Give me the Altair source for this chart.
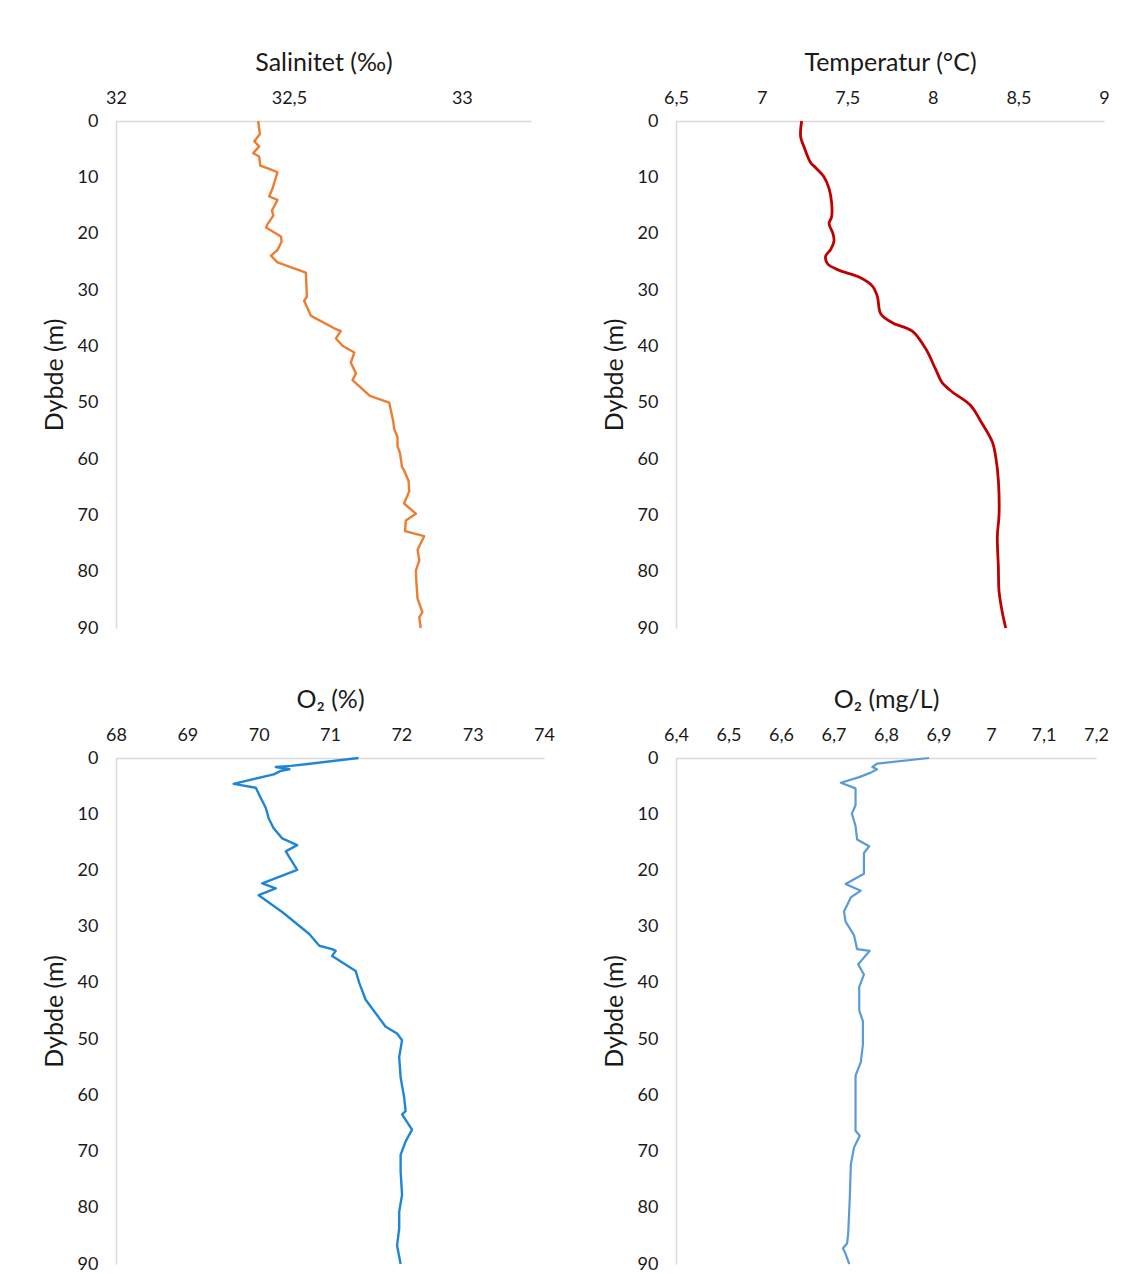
import altair as alt
import pandas as pd

# ---- data ----
sal_depth = [0, 2.3, 3.6, 4.5, 5.7, 6.3, 7.9, 8.5, 9.1, 11.9, 13.4, 14.0, 15.9, 16.8, 18.3, 18.9,
             20.5, 21.4, 22.9, 23.9, 25.1, 26.9, 31.2, 31.9, 34.6, 36.8, 37.3, 38.6, 39.9, 41.1,
             42.9, 44.8, 46.0, 48.8, 50.0, 53.4, 54.6, 56.1, 57.7, 58.9, 61.4, 62.0, 63.9, 65.7,
             67.9, 69.7, 70.9, 72.8, 73.7, 76.1, 78.0, 79.8, 82.3, 84.8, 87.2, 88.1, 90]
sal_value = [32.411, 32.416, 32.400, 32.414, 32.397, 32.414, 32.417, 32.443, 32.467, 32.453,
             32.443, 32.467, 32.451, 32.455, 32.438, 32.434, 32.477, 32.479, 32.467, 32.448,
             32.467, 32.549, 32.552, 32.544, 32.564, 32.631, 32.650, 32.636, 32.655, 32.689,
             32.679, 32.694, 32.684, 32.734, 32.790, 32.802, 32.804, 32.814, 32.814, 32.821,
             32.827, 32.833, 32.846, 32.848, 32.833, 32.867, 32.838, 32.836, 32.891, 32.872,
             32.877, 32.867, 32.869, 32.872, 32.886, 32.877, 32.881]

temp_depth = [0, 2.8, 4.6, 7.4, 8.3, 9.9, 12.0, 14.5, 17.0, 18.2, 20.0, 21.3, 22.8, 24.0, 25.3,
              26.5, 27.7, 29.3, 31.1, 34.2, 35.8, 37.3, 40.4, 44.1, 46.5, 48.1, 50.5, 53.3,
              57.0, 59.5, 63.8, 69.9, 73.7, 79.2, 83.5, 87.2, 90]
temp_value = [7.234, 7.228, 7.248, 7.287, 7.316, 7.364, 7.394, 7.409, 7.409, 7.394, 7.417,
              7.423, 7.404, 7.374, 7.384, 7.452, 7.569, 7.647, 7.676, 7.696, 7.764, 7.880,
              7.958, 8.017, 8.056, 8.114, 8.221, 8.280, 8.348, 8.367, 8.383, 8.387, 8.377,
              8.383, 8.387, 8.406, 8.426]

o2p_depth = [0, 1.1, 1.4, 1.6, 2.0, 2.3, 2.9, 4.6, 5.3, 7.1, 8.9, 10.7, 12.5, 14.3, 15.5, 16.6,
             19.9, 22.3, 23.2, 24.4, 27.4, 31.3, 33.4, 34.0, 34.3, 35.2, 37.9, 40.0, 43.0, 47.8,
             49.0, 50.2, 53.2, 56.8, 60.4, 62.8, 63.4, 66.1, 68.2, 70.6, 73.5, 77.7, 80.7,
             83.7, 86.7, 90]
o2p_value = [71.40, 70.66, 70.45, 70.24, 70.43, 70.31, 70.21, 69.65, 69.96, 70.03, 70.10,
             70.14, 70.21, 70.33, 70.54, 70.38, 70.54, 70.05, 70.24, 70.00, 70.33, 70.71,
             70.85, 71.03, 71.08, 71.03, 71.36, 71.41, 71.50, 71.78, 71.94, 72.01, 71.97,
             71.99, 72.04, 72.06, 72.01, 72.15, 72.06, 71.99, 71.99, 72.01, 71.97, 71.97,
             71.94, 71.99]

o2m_depth = [0, 1.0, 1.6, 2.0, 2.6, 3.4, 4.4, 5.4, 8.4, 9.9, 12.1, 14.5, 15.7, 16.9, 20.6, 22.4,
             23.6, 24.8, 27.3, 29.1, 31.5, 34.0, 34.3, 36.7, 38.5, 40.7, 44.9, 46.8, 51.0,
             54.1, 56.5, 66.3, 67.2, 69.3, 72.3, 78.4, 84.5, 86.3, 87.2, 88.2, 90]
o2m_value = [6.882, 6.783, 6.774, 6.783, 6.771, 6.749, 6.714, 6.742, 6.742, 6.735, 6.742,
             6.745, 6.768, 6.758, 6.758, 6.723, 6.752, 6.733, 6.720, 6.723, 6.739, 6.745,
             6.769, 6.747, 6.758, 6.749, 6.749, 6.756, 6.756, 6.752, 6.742, 6.742, 6.750,
             6.739, 6.733, 6.731, 6.728, 6.726, 6.718, 6.723, 6.730]

depth_ticks = [0, 10, 20, 30, 40, 50, 60, 70, 80, 90]
sal_ticks = [32, 32.5, 33]
temp_ticks = [6.5, 7, 7.5, 8, 8.5, 9]
o2p_ticks = [68, 69, 70, 71, 72, 73, 74]
o2m_ticks = [6.4, 6.5, 6.6, 6.7, 6.8, 6.9, 7, 7.1, 7.2]

FONT = "Lato"
COMMA = "replace(toString(datum.value), '.', ',')"


def panel(depths, values, title, domain, ticks, color, width, height, stroke=2.4,
          interp="linear"):
    df = pd.DataFrame({"depth": depths, "value": values})
    return alt.Chart(df).mark_line(color=color, strokeWidth=stroke, interpolate=interp,
                                   strokeJoin="round").encode(
        x=alt.X("value:Q",
                scale=alt.Scale(domain=domain, nice=False, zero=False),
                axis=alt.Axis(orient="top", title=title, values=ticks, labelExpr=COMMA,
                              labelPadding=14, titlePadding=14, labelFlush=False)),
        y=alt.Y("depth:Q",
                scale=alt.Scale(domain=[0, 90], reverse=True, nice=False),
                axis=alt.Axis(title="Dybde (m)", values=depth_ticks, labelPadding=18,
                              titlePadding=10)),
        order=alt.Order("depth:Q"),
    ).properties(width=width, height=height)


p1 = panel(sal_depth, sal_value, "Salinitet (‰)", [32, 33.2], sal_ticks, "#ED7D31", 415, 507)
p2 = panel(temp_depth, temp_value, "Temperatur (°C)", [6.5, 9], temp_ticks, "#C00000", 428, 507,
           2.8, "catmull-rom")
p3 = panel(o2p_depth, o2p_value, "O₂ (%)", [68, 74], o2p_ticks, "#1F86D6", 428, 506)
p4 = panel(o2m_depth, o2m_value, "O₂ (mg/L)", [6.4, 7.2], o2m_ticks, "#5B9BD5", 420, 506, 2.2)

row1 = alt.hconcat(p1, p2, spacing=71)
row2 = alt.hconcat(p3, p4, spacing=47)

chart = alt.vconcat(row1, row2, spacing=50).properties(
    padding={"left": 34, "top": 42, "right": 0, "bottom": 0}
).configure(background="white").configure_view(stroke=None).configure_axis(
    labelFont=FONT, labelFontSize=18, labelColor="#1a1a1a",
    titleFont=FONT, titleFontSize=25, titleFontWeight="normal", titleColor="#1a1a1a",
    domainColor="#D9D9D9", domainWidth=1.5, ticks=False, grid=False,
)

chart.save("out.html", embed_options={"renderer": "svg", "actions": False})
